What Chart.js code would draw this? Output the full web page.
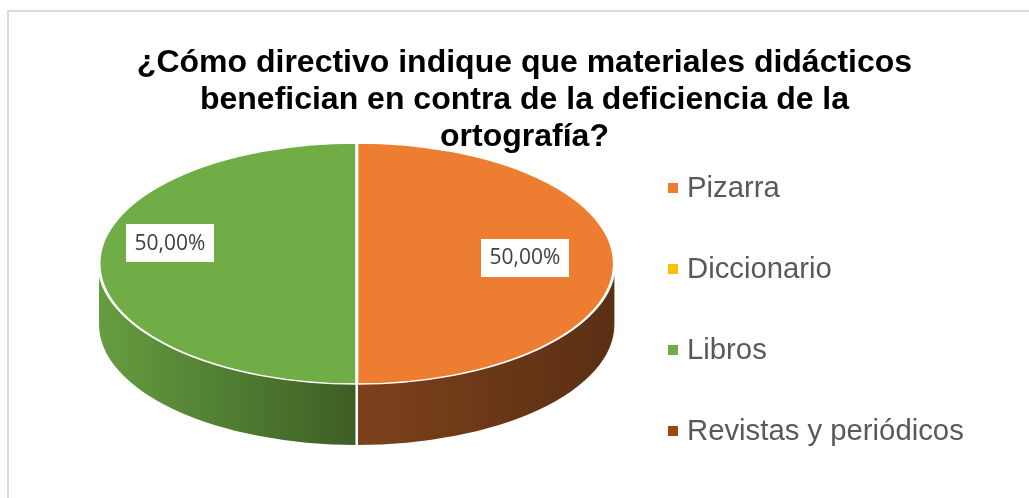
<!DOCTYPE html>
<html><head><meta charset="utf-8">
<script src="https://cdn.jsdelivr.net/npm/chart.js@4.4.1/dist/chart.umd.min.js"></script>
<style>
html,body{margin:0;padding:0;background:#fff;}
#wrap{position:relative;width:1029px;height:498px;overflow:hidden;background:#fff;}
#frame{position:absolute;left:7px;top:10px;width:1100px;height:600px;border:2px solid #dadada;box-sizing:border-box;}
canvas{position:absolute;left:0;top:0;}
</style></head><body>
<div id="wrap"><div id="frame"></div><canvas id="c" width="1029" height="498"></canvas></div>
<script>
// ---- data ----
const titleLines = ['¿Cómo directivo indique que materiales didácticos', 'benefician en contra de la deficiencia de la', 'ortografía?'];
const categories = ['Pizarra', 'Diccionario', 'Libros', 'Revistas y periódicos'];
const values = [50, 0, 50, 0];

// ---- styles ----
const sliceColors = ['#ED7D31', '#FFC000', '#70AD47', '#9E480E'];
const sideColors = [['#7d411b', '#5b2f14'], ['#b08600', '#7a5c00'], ['#659d40', '#3d5d25'], ['#6e320a', '#4a2106']];

// ---- layout constants ----
const PIE_CX = 356.7, PIE_CY = 263.5, PIE_R = 257.7, PIE_K = 0.4676, PIE_DEPTH = 61;
const LABEL_F = 0.68;
const LABEL_NUDGE = {0: [-7, -6], 2: [-11.5, -20.5]};
const LEG_X = 668, LEG_Y0 = 188, LEG_STEP = 81, LEG_BOX = 10, LEG_TEXT_X = 687;

const pie3d = {
  id: 'pie3d',
  beforeDatasetsDraw(chart) {
    const ctx = chart.ctx;
    const meta = chart.getDatasetMeta(0);
    const cx = PIE_CX, cy = PIE_CY;
    meta.data.forEach((arc, i) => {
      const R = arc.outerRadius, ry = R * PIE_K;
      for (let k = -1; k <= 1; k++) {
        const s = arc.startAngle + 2 * Math.PI * k, e = arc.endAngle + 2 * Math.PI * k;
        const a1 = Math.max(s, 0), a2 = Math.min(e, Math.PI);
        if (a2 <= a1 + 1e-6) continue;
        const xl = cx + R * Math.cos(a2), xr = cx + R * Math.cos(a1);
        const g = ctx.createLinearGradient(xl, 0, xr, 0);
        g.addColorStop(0, sideColors[i][0]);
        g.addColorStop(1, sideColors[i][1]);
        ctx.beginPath();
        ctx.ellipse(cx, cy, R, ry, 0, a1, a2, false);
        ctx.lineTo(cx + R * Math.cos(a2), cy + PIE_DEPTH + ry * Math.sin(a2));
        ctx.ellipse(cx, cy + PIE_DEPTH, R, ry, 0, a2, a1, true);
        ctx.closePath();
        ctx.fillStyle = g;
        ctx.fill();
        ctx.strokeStyle = '#ffffff';
        ctx.lineWidth = 2.5;
        [a1, a2].forEach(a => {
          if (Math.abs(a) < 1e-6 || Math.abs(a - Math.PI) < 1e-6) return;
          ctx.beginPath();
          ctx.moveTo(cx + R * Math.cos(a), cy + ry * Math.sin(a));
          ctx.lineTo(cx + R * Math.cos(a), cy + PIE_DEPTH + ry * Math.sin(a));
          ctx.stroke();
        });
      }
    });
    const a0 = meta.data[0];
    ctx.save();
    ctx.translate(cx, cy);
    ctx.scale(1, PIE_K);
    ctx.translate(-a0.x, -a0.y);
  },
  afterDatasetsDraw(chart) {
    const ctx = chart.ctx;
    ctx.restore();
    // data labels
    const meta = chart.getDatasetMeta(0);
    const total = values.reduce((a, b) => a + b, 0);
    meta.data.forEach((arc, i) => {
      if (!values[i]) return;
      const mid = (arc.startAngle + arc.endAngle) / 2;
      const nd = LABEL_NUDGE[i] || [0, 0];
      const x = PIE_CX + Math.cos(mid) * arc.outerRadius * LABEL_F + nd[0];
      const y = PIE_CY + Math.sin(mid) * arc.outerRadius * PIE_K * LABEL_F + nd[1];
      const txt = (values[i] / total * 100).toFixed(2).replace('.', ',') + '%';
      ctx.font = '21px "Open Sans", "Noto Sans", sans-serif';
      const w = ctx.measureText(txt).width;
      ctx.fillStyle = '#ffffff';
      ctx.fillRect(Math.round(x - 44), Math.round(y - 19), 88, 38);
      ctx.fillStyle = '#404040';
      ctx.textAlign = 'center';
      ctx.textBaseline = 'middle';
      ctx.fillText(txt, x, y + 1);
    });
  },
  afterDraw(chart) {
    const ctx = chart.ctx;
    ctx.save();
    ctx.font = '29.3px "Liberation Sans", Arial, sans-serif';
    ctx.textAlign = 'left';
    ctx.textBaseline = 'middle';
    categories.forEach((lab, i) => {
      const y = LEG_Y0 + i * LEG_STEP;
      ctx.fillStyle = sliceColors[i];
      ctx.fillRect(LEG_X, y - LEG_BOX / 2, LEG_BOX, LEG_BOX);
      ctx.fillStyle = '#595959';
      ctx.fillText(lab, LEG_TEXT_X, y + 1);
    });
    ctx.restore();
  }
};

new Chart(document.getElementById('c'), {
  type: 'pie',
  data: {
    labels: categories,
    datasets: [{
      data: values,
      backgroundColor: sliceColors,
      borderColor: '#ffffff',
      borderWidth: 3,
      radius: PIE_R,
      clip: false
    }]
  },
  options: {
    responsive: false,
    animation: false,
    devicePixelRatio: 1,
    layout: {padding: {left: 20, right: 0, top: 0, bottom: 0}},
    plugins: {
      legend: {display: false},
      tooltip: {enabled: false},
      title: {
        display: true,
        text: titleLines,
        color: '#000000',
        font: {family: "'Liberation Sans', Arial, sans-serif", size: 32, weight: 'bold', lineHeight: 1.156},
        padding: {top: 45, bottom: 0}
      }
    }
  },
  plugins: [pie3d]
});
</script>
</body></html>
